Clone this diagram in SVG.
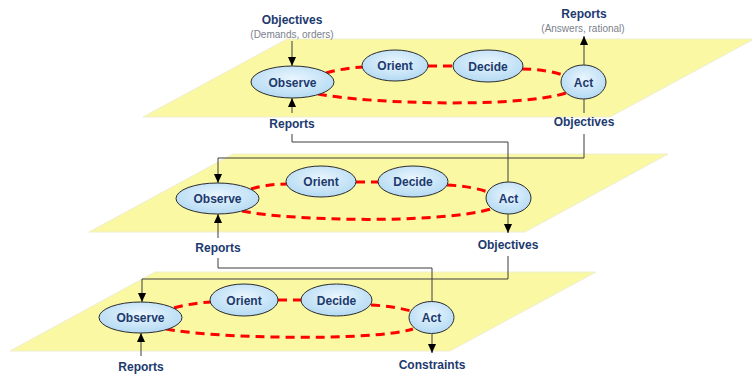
<svg xmlns="http://www.w3.org/2000/svg" width="752" height="374" viewBox="0 0 752 374">
  <style>
    .plane { fill: #fbf8a4; stroke: #eeeecf; stroke-width: 1; }
    .node { fill: url(#nodeFill); stroke: #2b2b2b; stroke-width: 1; }
    .loop { fill: none; stroke: #ff0000; stroke-width: 3; stroke-dasharray: 9 6; }
    .link { fill: none; stroke: #3c3c3c; stroke-width: 1; }
    .lbl { font-family: "Liberation Sans", Arial, sans-serif; font-size: 12px; font-weight: bold; fill: #1c3a6e; text-anchor: middle; }
    .sub { font-family: "Liberation Sans", Arial, sans-serif; font-size: 10px; fill: #7c7f8c; text-anchor: middle; }
  </style>
  <defs>
    <radialGradient id="nodeFill" cx="50%" cy="40%" r="60%">
      <stop offset="0%" stop-color="#eaf6fe"/>
      <stop offset="100%" stop-color="#b4daf3"/>
    </radialGradient>
    <marker id="arrow" markerUnits="userSpaceOnUse" markerWidth="10" markerHeight="10" viewBox="0 0 10 10" refX="9" refY="5" orient="auto">
      <path d="M0,1 L9,5 L0,9 Z" fill="#000"/>
    </marker>
  </defs>

  <!-- planes -->
  <g id="plane-top"><polygon class="plane" points="143,117 287,39 754,39 610,117"/></g>
  <g id="plane-mid"><polygon class="plane" points="89,232 233,154 668,154 525,232"/></g>
  <g id="plane-bottom"><polygon class="plane" points="10,351 155,272 596,272 450,351"/></g>

  <!-- OODA loops (dashed) -->
  <g id="loops">
    <path class="loop" d="M326,73 Q344,68 363,67"/>
    <path class="loop" d="M428,66 H454"/>
    <path class="loop" d="M522,69 Q544,69 563,75"/>
    <path class="loop" d="M318,94 C370,104 520,108 566,93"/>

    <path class="loop" d="M251,189 Q268,184 287,184"/>
    <path class="loop" d="M356,182 H379"/>
    <path class="loop" d="M447,185 Q470,186 488,192"/>
    <path class="loop" d="M242,211 C290,221 440,224 491,209"/>

    <path class="loop" d="M174,308 Q192,303 211,302"/>
    <path class="loop" d="M278,300 H302"/>
    <path class="loop" d="M371,305 Q392,306 411,311"/>
    <path class="loop" d="M166,329 C210,338 370,342 413,329"/>
  </g>

  <!-- connectors -->
  <g id="connectors">
    <path class="link" d="M292,41 V66" marker-end="url(#arrow)"/>
    <path class="link" d="M292,113 V98" marker-end="url(#arrow)"/>
    <path class="link" d="M584,65 V36" marker-end="url(#arrow)"/>
    <path class="link" d="M584,99 V113"/>
    <path class="link" d="M292,134 V142 H508 V182"/>
    <path class="link" d="M584,134 V158 H218 V183" marker-end="url(#arrow)"/>

    <path class="link" d="M218,238 V214" marker-end="url(#arrow)"/>
    <path class="link" d="M508,214 V233" marker-end="url(#arrow)"/>
    <path class="link" d="M218,258 V268 H432 V302"/>
    <path class="link" d="M508,256 V279 H142 V302" marker-end="url(#arrow)"/>

    <path class="link" d="M141,356 V333" marker-end="url(#arrow)"/>
    <path class="link" d="M432,334 V353" marker-end="url(#arrow)"/>
  </g>

  <!-- top level -->
  <g id="top-observe"><ellipse class="node" cx="292.5" cy="82" rx="41.5" ry="16"/><text class="lbl" x="292.5" y="86.5">Observe</text></g>
  <g id="top-orient"><ellipse class="node" cx="395" cy="65.5" rx="33" ry="15.5"/><text class="lbl" x="395" y="70">Orient</text></g>
  <g id="top-decide"><ellipse class="node" cx="488" cy="66" rx="35" ry="16"/><text class="lbl" x="488" y="70.5">Decide</text></g>
  <g id="top-act"><ellipse class="node" cx="583.5" cy="82" rx="22.5" ry="17"/><text class="lbl" x="583.5" y="86.5">Act</text></g>

  <!-- middle level -->
  <g id="mid-observe"><ellipse class="node" cx="217.5" cy="198.5" rx="41.5" ry="15.5"/><text class="lbl" x="217.5" y="203">Observe</text></g>
  <g id="mid-orient"><ellipse class="node" cx="321" cy="181.5" rx="35" ry="15.5"/><text class="lbl" x="321" y="186">Orient</text></g>
  <g id="mid-decide"><ellipse class="node" cx="413" cy="181.5" rx="35" ry="15.5"/><text class="lbl" x="413" y="186">Decide</text></g>
  <g id="mid-act"><ellipse class="node" cx="508.5" cy="198" rx="22.5" ry="16"/><text class="lbl" x="508.5" y="202.5">Act</text></g>

  <!-- bottom level -->
  <g id="bot-observe"><ellipse class="node" cx="140.5" cy="317.5" rx="41.5" ry="15.5"/><text class="lbl" x="140.5" y="322">Observe</text></g>
  <g id="bot-orient"><ellipse class="node" cx="244" cy="300" rx="34" ry="16"/><text class="lbl" x="244" y="304.5">Orient</text></g>
  <g id="bot-decide"><ellipse class="node" cx="336.5" cy="300" rx="35.5" ry="16"/><text class="lbl" x="336.5" y="304.5">Decide</text></g>
  <g id="bot-act"><ellipse class="node" cx="431.5" cy="317.5" rx="22.5" ry="16"/><text class="lbl" x="431.5" y="322">Act</text></g>

  <!-- labels -->
  <g id="labels">
    <text class="lbl" x="292" y="24">Objectives</text>
    <text class="sub" x="292" y="38">(Demands, orders)</text>
    <text class="lbl" x="584" y="18">Reports</text>
    <text class="sub" x="583" y="32">(Answers, rational)</text>
    <text class="lbl" x="292" y="128">Reports</text>
    <text class="lbl" x="584" y="126">Objectives</text>
    <text class="lbl" x="218" y="252">Reports</text>
    <text class="lbl" x="508" y="249">Objectives</text>
    <text class="lbl" x="141" y="371">Reports</text>
    <text class="lbl" x="432" y="369">Constraints</text>
  </g>
</svg>
